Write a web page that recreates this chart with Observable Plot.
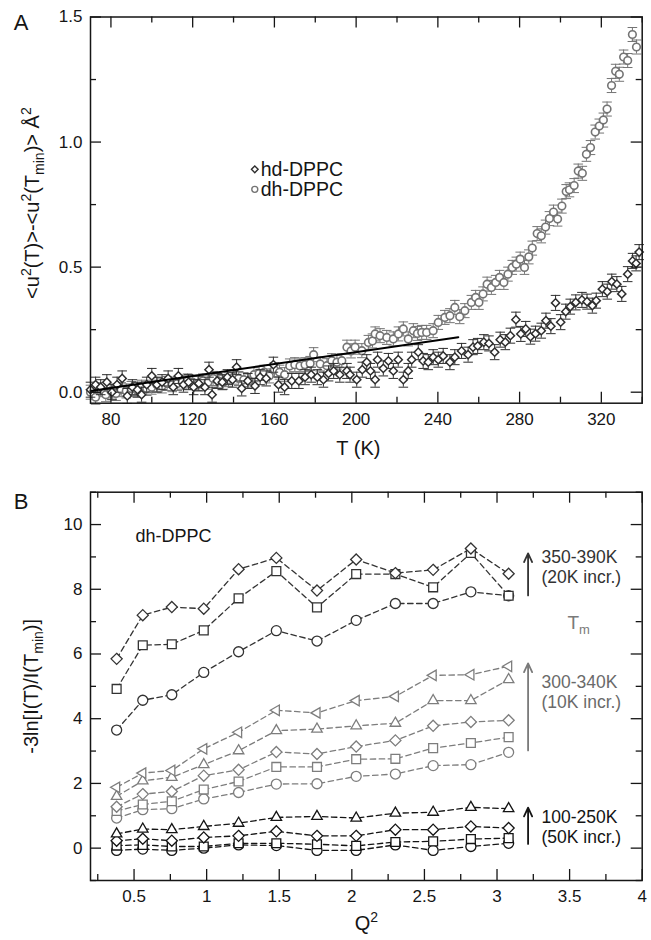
<!DOCTYPE html>
<html>
<head>
<meta charset="utf-8">
<script src="https://cdn.jsdelivr.net/npm/d3@7"></script>
<script src="https://cdn.jsdelivr.net/npm/@observablehq/plot@0.6"></script>
<style>
html,body{margin:0;padding:0;background:#fff;overflow:hidden}
#wrap{position:relative;width:651px;height:940px}
#wrap>div{position:absolute;left:0}
</style>
</head>
<body>
<div id="wrap"></div>
<script>
// ---------------- Panel A data ----------------
const hdT = [70,72.5,75,78,80.5,83,85.5,88,90.5,93,
  95,97.5,100,102.5,105,108,110.5,113,115.5,118,
  120.5,123,126,128,129.5,132,134.5,137,139.5,141.5,
  144,147,150.5,153,156,159.5,162,165,168.5,172,
  175,178,181,184,186.5,189,192,195.5,197,200.3,
  203,205.2,207,209.3,210.5,213.3,215.8,218.2,220.6,223.1,
  225.5,227.2,230.4,232.8,235.3,237.7,240.2,242.6,245.9,248.3,
  251.6,254.8,257.2,259.5,262.5,265,267.8,270.5,273,275.5,
  278.2,280.6,283,285.3,287.8,290.6,292.9,295.3,297.6,300.1,
  302.6,304.8,307.5,310.5,313,315.6,317.5,320.5,322.9,325.1,
  327.6,330,332.9,335.3,337,338.5];
const hdU = [0.01,0.03,0.02,0.04,0.0,0.03,0.055,-0.015,0.02,0.01,
  -0.01,0.03,0.065,0.03,0.04,0.055,0.02,0.065,0.03,0.04,
  0.02,0.035,0.02,0.09,-0.01,0.045,0.04,0.06,0.05,0.1,
  0.015,0.045,0.025,0.06,0.055,0.11,0.03,0.02,0.045,0.045,
  0.06,0.07,0.06,0.05,0.075,0.085,0.07,0.085,0.07,0.05,
  0.09,0.12,0.085,0.05,0.13,0.095,0.125,0.085,0.13,0.05,
  0.085,0.13,0.16,0.125,0.12,0.14,0.13,0.145,0.12,0.14,
  0.165,0.15,0.18,0.185,0.2,0.195,0.16,0.21,0.2,0.226,
  0.29,0.233,0.253,0.222,0.234,0.246,0.286,0.264,0.357,0.28,
  0.322,0.342,0.359,0.369,0.362,0.346,0.366,0.412,0.402,0.442,
  0.432,0.393,0.472,0.525,0.515,0.56];
const dhT = [70,72.5,75,77.5,80,82.5,85,87.5,90,92.5,
  95,97.5,100,102.5,105,107.5,110,112.5,115,117.5,
  120,122.5,125,127.5,130,132.5,135,137.5,140,142.5,
  145,147.5,150,152.5,155,157.5,160,162.5,165,167.5,
  170,172.5,175,177.5,179.2,182.4,185.7,188.1,190.6,193,
  195.5,197.5,199.5,202.8,206,208,209.3,211.7,215,218.2,
  220.7,223.1,225.5,228,230,232.1,234.5,237.7,240.2,243.4,
  245.9,248.3,250.7,253.2,256.4,258.5,260.1,262.1,264.1,266.2,
  268.3,270.2,272.3,274.3,276.4,278.4,280.3,282.4,284.5,286.2,
  288.6,290.6,292.7,294.6,296.6,298.6,300.7,302.8,304.4,306.7,
  308.7,310.7,312.7,314.7,317,319,321,322.8,325,327,
  328.8,330.9,332.9,335.2,337.2];
const dhU = [0.0,-0.02,0.01,-0.01,0.005,-0.005,0.01,0.005,0.015,0.01,
  0.02,0.015,0.02,0.03,0.025,0.035,0.03,0.035,0.04,0.045,
  0.04,0.035,0.045,0.04,0.055,0.045,0.04,0.05,0.06,0.055,
  0.05,0.045,0.07,0.075,0.08,0.065,0.09,0.08,0.07,0.105,
  0.11,0.105,0.11,0.115,0.15,0.113,0.106,0.126,0.12,0.126,
  0.18,0.165,0.18,0.166,0.199,0.205,0.233,0.226,0.219,0.213,
  0.233,0.253,0.213,0.246,0.235,0.239,0.239,0.246,0.279,0.299,
  0.306,0.339,0.302,0.326,0.359,0.379,0.359,0.393,0.432,0.419,
  0.439,0.459,0.439,0.472,0.499,0.512,0.532,0.499,0.541,0.576,
  0.634,0.625,0.66,0.694,0.72,0.692,0.744,0.802,0.809,0.826,
  0.884,0.875,0.951,0.978,1.04,1.064,1.088,1.132,1.226,1.283,
  1.271,1.34,1.326,1.43,1.38];
const hdErr = 0.03;
const dhErr = 0.028;
const fitT = [70, 250];
const fitU = [0.005, 0.22];
const legendNames = ["hd-DPPC", "dh-DPPC"];
const legendT = [150.4, 150.4];
const legendU = [0.891, 0.811];

const aXMajor = [80,120,160,200,240,280,320];
const aXMinor = [100,140,180,220,260,300,340];
const aYMajor = [0,0.5,1.0,1.5];
const aYMinor = [0.25,0.75,1.25];

// ---------------- Panel B data ----------------
const q2 = [0.38,0.56,0.76,0.98,1.22,1.48,1.76,2.03,2.30,2.56,2.82,3.08];
const k390 = [5.85,7.2,7.45,7.4,8.62,8.97,7.96,8.92,8.5,8.6,9.26,8.48];
const k370 = [4.92,6.27,6.3,6.73,7.72,8.56,7.44,8.47,8.47,8.06,9.12,7.8];
const k350 = [3.65,4.57,4.74,5.43,6.07,6.72,6.4,7.04,7.56,7.56,7.92,7.8];
const k340 = [1.88,2.32,2.4,3.07,3.58,4.26,4.18,4.56,4.69,5.34,5.36,5.62];
const k330 = [1.6,2.08,2.19,2.58,3.01,3.63,3.68,3.78,3.86,4.56,4.56,5.21];
const k320 = [1.28,1.67,1.75,2.24,2.42,2.97,2.91,3.14,3.33,3.78,3.9,3.95];
const k310 = [1.15,1.35,1.45,1.81,2.06,2.51,2.51,2.75,2.76,3.09,3.25,3.43];
const k300 = [0.93,1.19,1.22,1.52,1.72,1.98,1.99,2.22,2.29,2.55,2.58,2.96];
const k250 = [0.44,0.59,0.57,0.67,0.77,0.95,0.98,0.93,1.08,1.11,1.26,1.22];
const k200 = [0.23,0.29,0.23,0.33,0.38,0.52,0.38,0.38,0.57,0.57,0.67,0.62];
const k150 = [0.08,0.1,0.05,0.05,0.15,0.15,0.12,0.07,0.19,0.21,0.28,0.31];
const k100 = [-0.07,-0.03,-0.07,0.0,0.1,0.08,-0.07,-0.07,0.1,-0.07,0.05,0.15];

const annoText = ["350-390K\n(20K incr.)", "300-340K\n(10K incr.)", "100-250K\n(50K incr.)"];
const annoQ = [3.306, 3.306, 3.306];
const annoV = [8.70, 4.84, 0.67];
const arrowQ = [3.214, 3.214, 3.214];
const arrowV1 = [7.81, 3.02, 0.13];
const arrowV2 = [9.11, 5.71, 1.25];
const sampleLabel = ["dh-DPPC"]; const sampleQ = [0.51]; const sampleV = [9.64];
const tmLabel = ["Tm"]; const tmQ = [3.485]; const tmV = [6.96];

const bXMajor = [0.5,1,1.5,2,2.5,3,3.5,4];
const bXMinor = [0.25,0.75,1.25,1.75,2.25,2.75,3.25,3.75];
const bYMajor = [0,2,4,6,8,10];
const bYMinor = [-1,1,3,5,7,9,11];

// ---------------- helpers ----------------
const FONT = "'Liberation Sans', Arial, Helvetica, sans-serif";
const W = 651, H = 470, mL = 90, mR = 9.3;
const innerW = W - mL - mR;
const aTop = 16.5, aBottom = 67.3, aInnerH = H - aTop - aBottom;
const bTop = 21.7, bBottom = 60, bInnerH = H - bTop - bBottom;
const INK = "#151515";

const capSymbol = {draw(ctx, size) { const r = Math.sqrt(size / Math.PI); ctx.moveTo(-r, 0); ctx.lineTo(r, 0); }};
const leftTriangle = {draw(ctx, size) {
  const s = Math.sqrt(size) * 0.6824, t = s / 2, u = s * Math.sqrt(3) / 2;
  ctx.moveTo(-s, 0); ctx.lineTo(t, -u); ctx.lineTo(t, u); ctx.closePath();
}};

function inwardTicks(xs, ys, len, innerH) {
  const o = {stroke: INK, strokeWidth: 1.3};
  return [
    Plot.tickX(xs, {x: d => d, insetTop: innerH - len, ...o}),
    Plot.tickX(xs, {x: d => d, insetBottom: innerH - len, ...o}),
    Plot.tickY(ys, {y: d => d, insetRight: innerW - len, ...o}),
    Plot.tickY(ys, {y: d => d, insetLeft: innerW - len, ...o})
  ];
}

function richify(svg, segments, small) {
  const plain = segments.map(s => s[0]).join("");
  for (const t of svg.querySelectorAll("text")) {
    if (t.textContent !== plain) continue;
    while (t.firstChild) t.removeChild(t.firstChild);
    let shift = 0;
    for (const [s, kind] of segments) {
      const ts = document.createElementNS("http://www.w3.org/2000/svg", "tspan");
      ts.textContent = s;
      const target = kind === "sup" ? -8 : kind === "sub" ? 5 : 0;
      if (target - shift) ts.setAttribute("dy", target - shift);
      shift = target;
      if (kind !== "n") ts.setAttribute("font-size", small + "px");
      t.appendChild(ts);
    }
  }
}

const C = {textAnchor: "middle", lineAnchor: "middle"};

// ---------------- Panel A ----------------
const hdRows = hdT.map((t, i) => ({t, u: hdU[i]}));
const dhRows = dhT.map((t, i) => ({t, u: dhU[i]}));
const fitRows = fitT.map((t, i) => ({t, u: fitU[i]}));
const DH = "#747474", HD = "#2e2e2e";

const aYSeg = [["<u","n"],["2","sup"],["(T)>-<u","n"],["2","sup"],["(T","n"],["min","sub"],[")> Å","n"],["2","sup"]];
const plotA = Plot.plot({
  width: W, height: H, marginLeft: mL, marginRight: mR, marginTop: aTop, marginBottom: aBottom,
  x: {type: "linear", domain: [70, 340]},
  y: {type: "linear", domain: [-0.044, 1.5]},
  style: {fontFamily: FONT, fontSize: "17px", color: INK, background: "transparent", overflow: "visible"},
  marks: [
    Plot.ruleX(dhRows, {x: "t", y1: d => d.u - dhErr, y2: d => d.u + dhErr, stroke: DH, strokeWidth: 1}),
    Plot.dot(dhRows, {x: "t", y: d => d.u + dhErr, symbol: capSymbol, r: 4.8, fill: "none", stroke: DH, strokeWidth: 1}),
    Plot.dot(dhRows, {x: "t", y: d => d.u - dhErr, symbol: capSymbol, r: 4.8, fill: "none", stroke: DH, strokeWidth: 1}),
    Plot.dot(dhRows, {x: "t", y: "u", r: 3.8, fill: "white", stroke: DH, strokeWidth: 1.6}),
    Plot.ruleX(hdRows, {x: "t", y1: d => d.u - hdErr, y2: d => d.u + hdErr, stroke: HD, strokeWidth: 1}),
    Plot.dot(hdRows, {x: "t", y: d => d.u + hdErr, symbol: capSymbol, r: 4.8, fill: "none", stroke: HD, strokeWidth: 1}),
    Plot.dot(hdRows, {x: "t", y: d => d.u - hdErr, symbol: capSymbol, r: 4.8, fill: "none", stroke: HD, strokeWidth: 1}),
    Plot.dot(hdRows, {x: "t", y: "u", symbol: "diamond2", r: 3.7, fill: "white", stroke: HD, strokeWidth: 1.5}),
    Plot.line(fitRows, {x: "t", y: "u", stroke: "#000", strokeWidth: 2}),
    Plot.dot([0], {x: () => legendT[0], y: () => legendU[0], symbol: "diamond2", r: 3, fill: "white", stroke: HD, strokeWidth: 1.4}),
    Plot.dot([1], {x: () => legendT[1], y: () => legendU[1], r: 3, fill: "white", stroke: DH, strokeWidth: 1.4}),
    Plot.text(legendNames, {x: (d, i) => legendT[i] + 2.9, y: (d, i) => legendU[i], text: d => d, textAnchor: "start", fontSize: 19.5}),
    Plot.frame({stroke: INK, strokeWidth: 1.5}),
    ...inwardTicks(aXMajor, aYMajor, 11, aInnerH),
    ...inwardTicks(aXMinor, aYMinor, 6, aInnerH),
    Plot.axisX(aXMajor, {tickSize: 0, tickPadding: 10, label: null, tickFormat: d => String(d), fontSize: 17}),
    Plot.axisY(aYMajor, {tickSize: 0, tickPadding: 8, label: null, tickFormat: d => d.toFixed(1), fontSize: 17}),
    Plot.text(["T (K)"], {frameAnchor: "bottom", dx: -8, dy: 45, fontSize: 20, ...C}),
    Plot.text([aYSeg.map(s => s[0]).join("")], {frameAnchor: "left", dx: -58, dy: -7, rotate: -90, fontSize: 20, ...C}),
    Plot.text(["A"], {frameAnchor: "top-left", dx: -69.5, dy: 6, fontSize: 22, ...C})
  ]
});
richify(plotA, aYSeg, 14);

// ---------------- Panel B ----------------
const HIGH = "#333333", MID = "#7d7d7d", LOW = "#141414";
const seriesB = [
  {v: k100, sym: "circle", c: LOW}, {v: k150, sym: "square", c: LOW},
  {v: k200, sym: "diamond2", c: LOW}, {v: k250, sym: "triangle2", c: LOW},
  {v: k300, sym: "circle", c: MID}, {v: k310, sym: "square", c: MID},
  {v: k320, sym: "diamond2", c: MID}, {v: k330, sym: "triangle2", c: MID},
  {v: k340, sym: leftTriangle, c: MID},
  {v: k350, sym: "circle", c: HIGH}, {v: k370, sym: "square", c: HIGH},
  {v: k390, sym: "diamond2", c: HIGH}
];
const bRows = seriesB.map(s => q2.map((q, i) => ({q, v: s.v[i]})));
const annoColors = [HIGH, "#6a6a6a", LOW];
const arrowColors = [HIGH, "#7a7a7a", LOW];
const arrowRows = arrowQ.map((q, i) => ({q, v1: arrowV1[i], v2: arrowV2[i], c: arrowColors[i]}));
const annoRows = annoText.map((t, i) => ({t, q: annoQ[i], v: annoV[i], c: annoColors[i]}));

const bYSeg = [["-3ln[I(T)/I(T","n"],["min","sub"],[")]","n"]];
const qSeg = [["Q","n"],["2","sup"]];
const tmSeg = [["T","n"],["m","sub"]];

const plotB = Plot.plot({
  width: W, height: H, marginLeft: mL, marginRight: mR, marginTop: bTop, marginBottom: bBottom,
  x: {type: "linear", domain: [0.2, 4]},
  y: {type: "linear", domain: [-1, 11]},
  style: {fontFamily: FONT, fontSize: "17px", color: INK, background: "transparent", overflow: "visible"},
  marks: [
    ...seriesB.map((s, i) => Plot.line(bRows[i], {x: "q", y: "v", stroke: s.c, strokeWidth: 1.3, strokeDasharray: "5.5,3.5"})),
    ...seriesB.map((s, i) => Plot.dot(bRows[i], {x: "q", y: "v", symbol: s.sym, r: 5, fill: "white", stroke: s.c, strokeWidth: 1.3})),
    ...arrowRows.map(a => Plot.arrow([a], {x1: "q", x2: "q", y1: "v1", y2: "v2", stroke: a.c, strokeWidth: 1.8, headLength: 8, headAngle: 50})),
    ...annoRows.map(a => Plot.text([a], {x: "q", y: "v", text: "t", fill: a.c, textAnchor: "start", fontSize: 17.5, lineHeight: 1.12})),
    Plot.text(sampleLabel, {x: (d, i) => sampleQ[i], y: (d, i) => sampleV[i], text: d => d, textAnchor: "start", fontSize: 18}),
    Plot.text(tmLabel, {x: (d, i) => tmQ[i], y: (d, i) => tmV[i], text: d => d, textAnchor: "start", fontSize: 19, fill: "#7a7a7a"}),
    Plot.frame({stroke: INK, strokeWidth: 1.5}),
    ...inwardTicks(bXMajor, bYMajor, 11, bInnerH),
    ...inwardTicks(bXMinor, bYMinor, 6, bInnerH),
    Plot.axisX(bXMajor, {tickSize: 0, tickPadding: 9, label: null, tickFormat: d => String(d), fontSize: 17}),
    Plot.axisY(bYMajor, {tickSize: 0, tickPadding: 8, label: null, tickFormat: d => String(d), fontSize: 17}),
    Plot.text([qSeg.map(s => s[0]).join("")], {frameAnchor: "bottom", dx: 0, dy: 43, fontSize: 20, ...C}),
    Plot.text([bYSeg.map(s => s[0]).join("")], {frameAnchor: "left", dx: -59, dy: 0, rotate: -90, fontSize: 20, ...C}),
    Plot.text(["B"], {frameAnchor: "top-left", dx: -69.5, dy: 10, fontSize: 22, ...C})
  ]
});
richify(plotB, bYSeg, 14);
richify(plotB, qSeg, 14);
richify(plotB, tmSeg, 13);

const wrap = document.getElementById("wrap");
const dA = document.createElement("div"); dA.style.top = "0px"; dA.append(plotA);
const dB = document.createElement("div"); dB.style.top = "470px"; dB.append(plotB);
wrap.append(dA, dB);
</script>
</body>
</html>
